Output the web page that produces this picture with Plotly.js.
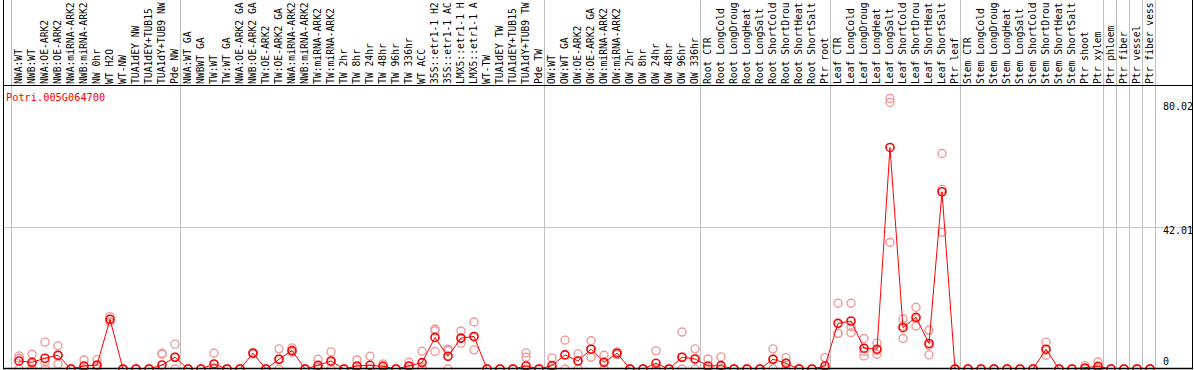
<!DOCTYPE html>
<html>
<head>
<meta charset="utf-8">
<script src="https://cdn.plot.ly/plotly-3.0.1.min.js"></script>
<style>html,body{margin:0;padding:0;background:#fff;}#chart{width:1194px;height:370px;}</style>
</head>
<body>
<div id="chart"></div>
<script>
const geneName = 'Potri.005G064700';

const categories = [
  'NWA:WT','NWB:WT','NWA:OE-ARK2','NWB:OE-ARK2','NWA:miRNA-ARK2','NWB:miRNA-ARK2','NW 0hr','WT H2O','WT-NW',
  'TUA1dEY NW','TUA1dEY+TUB15','TUA1dY+TUB9 NW','Pde NW',
  'NWA:WT GA','NWBWT GA','TW:WT','TW:WT GA','NWA:OE-ARK2 GA','NWB:OE-ARK2 GA','TW:OE-ARK2','TW:OE-ARK2 GA',
  'NWA:miRNA-ARK2','NWB:miRNA-ARK2','TW:miRNA-ARK2','TW:miRNA-ARK2','TW 2hr','TW 8hr','TW 24hr','TW 48hr',
  'TW 96hr','TW 336hr','WT ACC','35S::etr1-1 H2','35S::etr1-1 AC','LMX5::etr1-1 H','LMX5::etr1-1 A','WT-TW',
  'TUA1dEY TW','TUA1dEY+TUB15','TUA1dY+TUB9 TW','Pde TW',
  'OW:WT','OW:WT GA','OW:OE-ARK2','OW:OE-ARK2 GA','OW:miRNA-ARK2','OW:miRNA-ARK2','OW 2hr','OW 8hr','OW 24hr',
  'OW 48hr','OW 96hr','OW 336hr',
  'Root CTR','Root LongCold','Root LongDroug','Root LongHeat','Root LongSalt','Root ShortCold','Root ShortDrou',
  'Root ShortHeat','Root ShortSalt','Ptr root',
  'Leaf CTR','Leaf LongCold','Leaf LongDroug','Leaf LongHeat','Leaf LongSalt','Leaf ShortCold','Leaf ShortDrou',
  'Leaf ShortHeat','Leaf ShortSalt','Ptr leaf',
  'Stem CTR','Stem LongCold','Stem LongDroug','Stem LongHeat','Stem LongSalt','Stem ShortCold','Stem ShortDrou',
  'Stem ShortHeat','Stem ShortSalt','Ptr shoot','Ptr xylem',
  'Ptr phloem','Ptr fiber','Ptr vessel','Ptr fiber vess'
];

const meanVals = [
  2.4, 2.0, 3.2, 4.1, 0, 0.9, 1.2, 14.8, 0, 0, 0, 1.2, 3.5,
  0, 0, 1.5, 0, 0, 4.7, 0, 2.9, 5.5, 0, 1.1, 2.4, 0, 0.9, 1.1, 0.8, 0, 0.9, 1.9, 9.4, 3.8, 9.2, 9.7, 0, 0, 0, 0.9, 0,
  1.0, 4.2, 2.4, 5.9, 2.0, 4.7, 0, 0, 1.7, 0, 3.5, 3.0,
  0.9, 1.0, 0, 0, 0, 2.9, 1.7, 0, 0, 0.9,
  13.6, 14.3, 6.2, 5.9, 66.0, 12.3, 15.4, 7.6, 52.8, 0,
  0, 0, 0, 0, 0, 0, 5.9, 0, 0, 0.3, 0.8,
  0, 0, 0, 0
];

const rep1 = [
  3.9, 4.4, 8.0, 6.9, 0, 2.7, 2.8, 15.6, 0, 0, 0, 4.7, 7.4,
  0, 0, 4.7, 0, 0, 4.9, 0, 6.0, 6.3, 0, 2.9, 5.1, 0, 2.7, 3.8, 1.5, 0, 2.0, 5.3, 11.9, 5.9, 11.3, 14.0, 0, 0, 0, 4.8, 0,
  3.3, 8.6, 4.5, 8.4, 4.1, 5.1, 0, 0, 5.4, 0, 11.0, 6.0,
  3.0, 3.6, 0, 0, 0, 6.0, 3.4, 0, 0, 3.4,
  19.6, 19.6, 9.1, 7.7, 80.6, 14.9, 18.4, 11.6, 64.2, 0,
  0, 0, 0, 0, 0, 0, 8.0, 0, 0, 1.0, 2.1,
  0, 0, 0, 0
];
const rep2 = [
  3.2, 1.6, 2.0, 4.0, 0, 0, 0.8, 14.8, 0, 0, 0, 4.4, 3.5,
  0, 0, 0, 0, 0, 4.5, 0, 2.9, 5.0, 0, 0.5, 2.0, 0, 0, 0, 0.8, 0, 0.7, 0.5, 11.4, 5.5, 9.2, 9.5, 0, 0, 0, 3.5, 0,
  0, 4.2, 2.4, 5.9, 2.0, 4.7, 0, 0, 0, 0, 3.5, 3.0,
  0, 0, 0, 0, 0, 2.9, 1.7, 0, 0, 0,
  10.6, 12.6, 5.2, 5.5, 79.4, 12.8, 15.0, 7.0, 53.5, 0,
  0, 0, 0, 0, 0, 0, 5.6, 0, 0, 0, 0.3,
  0, 0, 0, 0
];
const rep3 = [
  0, 0, 0, 1.4, 0, 0, 0, 14.0, 0, 0, 0, 0, 0,
  0, 0, 0, 0, 0, 4.7, 0, 0, 5.2, 0, 0, 0, 0, 0, 0, 0, 0, 0, 0, 5.2, 0, 7.7, 5.7, 0, 0, 0, 0, 0,
  0, 0, 0, 3.5, 0, 4.3, 0, 0, 0, 0, 0, 0,
  0, 0, 0, 0, 0, 0, 0, 0, 0, 0,
  10.6, 10.8, 3.9, 4.4, 37.7, 9.1, 12.8, 4.2, 40.7, 0,
  0, 0, 0, 0, 0, 0, 4.1, 0, 0, 0, 0,
  0, 0, 0, 0
];

// first category index of each group (separators drawn before these)
const groupStarts = [0, 13, 41, 53, 63, 73, 84, 85, 86, 87, 88];
const yTickVals = [0, 42.01, 80.02];
const yTickText = ['0', '42.01', '80.02'];

const FONT = 'DejaVu Sans Mono, Liberation Mono, monospace';
const idx = categories.map((_, i) => i);

// replicate points
const repX = [], repY = [];
[rep1, rep2, rep3].forEach(r => r.forEach((v, i) => { if (v !== null) { repX.push(i); repY.push(v); } }));

const traces = [
  {
    type: 'scatter', mode: 'markers', x: repX, y: repY, cliponaxis: false, hoverinfo: 'y',
    marker: {symbol: 'circle-open', size: 8, color: '#ef9a9a', line: {width: 1.4, color: '#ef9a9a'}},
    showlegend: false
  },
  {
    type: 'scatter', mode: 'lines+markers', x: idx, y: meanVals, cliponaxis: false, hoverinfo: 'y',
    line: {color: '#ff0000', width: 1},
    marker: {symbol: 'circle-open', size: 8, color: '#ff0000', line: {width: 1.6, color: '#ff0000'}},
    showlegend: false
  }
];

const W = 1194, H = 370, ML = 3, MR = 1, MT = 85, MB = 1;
const plotH = H - MT - MB;
const topPaper = 1 + MT / plotH;

const shapes = [];
// group separators
groupStarts.forEach(k => shapes.push({
  type: 'line', xref: 'x', yref: 'paper', x0: k - 0.577, x1: k - 0.577, y0: 0, y1: topPaper,
  line: {color: '#c0c0c0', width: 1}, layer: 'below'
}));
// frame
shapes.push({type: 'line', xref: 'paper', xsizemode: 'pixel', xanchor: 0, x0: 0.5, x1: 0.5, yref: 'paper', y0: 0, y1: topPaper, line: {color: '#000', width: 1}});
shapes.push({type: 'line', xref: 'paper', xsizemode: 'pixel', xanchor: 1, x0: -0.5, x1: -0.5, yref: 'paper', y0: 0, y1: topPaper, line: {color: '#000', width: 1}});
shapes.push({type: 'line', xref: 'paper', x0: 0, x1: 1, yref: 'paper', ysizemode: 'pixel', yanchor: 1, y0: -0.5, y1: -0.5, line: {color: '#000', width: 1}});
shapes.push({type: 'line', xref: 'paper', x0: 0, x1: 1, yref: 'paper', ysizemode: 'pixel', yanchor: 0, y0: 0.5, y1: 0.5, line: {color: '#000', width: 1.5}});

const yLabelShift = [8, -3, -6];
const annotations = yTickVals.map((v, j) => ({
  xref: 'paper', x: (1161 - ML) / (W - ML - MR), xanchor: 'left',
  yref: 'y', y: v, yanchor: 'middle', yshift: yLabelShift[j],
  text: yTickText[j], showarrow: false,
  font: {family: FONT, size: 10, color: '#000'}
}));

const pxPerCat = 13, firstPx = 19;
const layout = {
  width: W, height: H,
  margin: {l: ML, r: MR, t: MT, b: MB, pad: 0},
  paper_bgcolor: '#fff', plot_bgcolor: '#fff',
  title: {
    text: geneName, xref: 'container', yref: 'container',
    x: 6 / W, xanchor: 'left', y: 1 - 97 / H, yanchor: 'middle',
    font: {family: FONT, size: 10.3, color: '#ff0000'}
  },
  xaxis: {
    side: 'top', range: [(ML - firstPx) / pxPerCat, (W - MR - firstPx) / pxPerCat],
    tickmode: 'array', tickvals: idx, ticktext: categories, tickangle: -90,
    tickfont: {family: FONT, size: 9.7, color: '#000'},
    ticks: '', showgrid: false, zeroline: false, showline: false, automargin: false
  },
  yaxis: {
    range: [0, 84.6], tickmode: 'array', tickvals: [yTickVals[1]], showticklabels: false,
    showgrid: true, gridcolor: '#c8c8c8', gridwidth: 1, zeroline: false, showline: false, ticks: '', automargin: false
  },
  shapes: shapes,
  annotations: annotations,
  showlegend: false
};

Plotly.newPlot('chart', traces, layout, {staticPlot: true, displayModeBar: false});
</script>
</body>
</html>
